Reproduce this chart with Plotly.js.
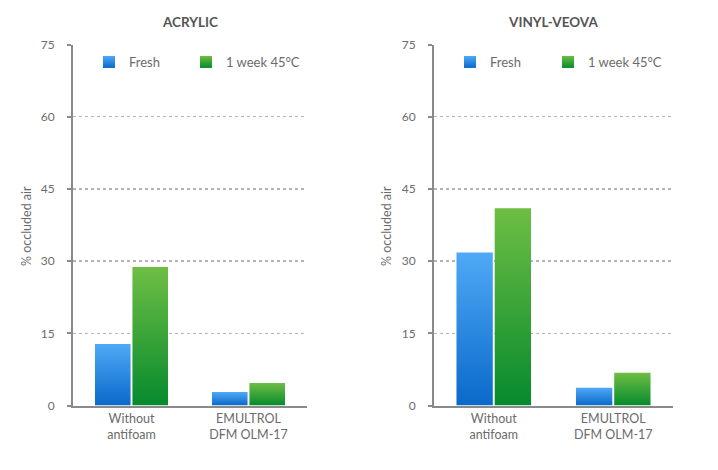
<!DOCTYPE html>
<html>
<head>
<meta charset="utf-8">
<script src="https://cdn.plot.ly/plotly-3.0.1.min.js"></script>
<style>
  html, body { margin: 0; padding: 0; background: #fff; }
  #chart { width: 718px; height: 470px; }
</style>
</head>
<body>
<div id="chart"></div>
<script>
// ---- data ----
const categories = ["Without<br>antifoam", "EMULTROL<br>DFM OLM-17"];
const seriesNames = ["Fresh", "1 week 45°C"];
const panelTitles = ["ACRYLIC", "VINYL-VEOVA"];
const acrylicFresh = [12.8, 2.8];
const acrylicWeek = [28.8, 4.7];
const vinylFresh = [31.8, 3.7];
const vinylWeek = [41.0, 6.8];
const yTicks = [0, 15, 30, 45, 60, 75];
const yTitle = "% occluded air";

const BLUE = "rgb(42, 135, 224)";
const GREEN = "rgb(47, 163, 58)";
const FONT = "Lato, 'Open Sans', sans-serif";
const TXT = "#6b6b6b";

function bar(y, name, color, xa, ya, legend) {
  return {
    type: "bar", x: categories, y: y, name: name,
    xaxis: xa, yaxis: ya, legend: legend,
    marker: { color: color, line: { width: 0 } },
    hoverinfo: "skip"
  };
}

const data = [
  bar(acrylicFresh, seriesNames[0], BLUE, "x", "y", "legend"),
  bar(acrylicWeek, seriesNames[1], GREEN, "x", "y", "legend2"),
  bar(vinylFresh, seriesNames[0], BLUE, "x2", "y2", "legend3"),
  bar(vinylWeek, seriesNames[1], GREEN, "x2", "y2", "legend4")
];

const yDom = [64.5 / 470, 425.5 / 470];
function yax(anchor) {
  return {
    domain: yDom, anchor: anchor, range: [0, 75], tickvals: yTicks,
    showgrid: true, gridcolor: "#b4b4b4", griddash: "dot", gridwidth: 1.5,
    showline: true, linecolor: "#8a8a8a", linewidth: 2,
    ticks: "outside", ticklen: 4, tickwidth: 2, tickcolor: "#8a8a8a",
    ticklabelstandoff: 10,
    zeroline: false, fixedrange: true,
    tickfont: { family: FONT, size: 12, color: TXT }
  };
}
function xax(domain, anchor) {
  return {
    domain: domain, anchor: anchor, type: "category", range: [-0.5, 1.5],
    showline: true, linecolor: "#8a8a8a", linewidth: 2,
    ticks: "", showgrid: false, fixedrange: true,
    tickfont: { family: FONT, size: 12.5, color: TXT }
  };
}
function leg(xpx) {
  return {
    orientation: "h", x: xpx / 718, y: (470 - 62) / 470, xref: "paper", yref: "paper",
    xanchor: "left", yanchor: "middle", bgcolor: "rgba(0,0,0,0)",
    font: { family: FONT, size: 13, color: TXT }
  };
}
function title(text, xpx) {
  return { text: "<b>" + text + "</b>", x: xpx / 718, y: (470 - 22) / 470, xref: "paper", yref: "paper",
    showarrow: false, xanchor: "center", yanchor: "middle", font: { family: FONT, size: 13.5, color: "#555" } };
}
function ytitle(xpx) {
  return { text: yTitle, textangle: -90, x: xpx / 718, y: (470 - 226) / 470, xref: "paper", yref: "paper",
    showarrow: false, xanchor: "center", yanchor: "middle", font: { family: FONT, size: 12.5, color: TXT } };
}

const layout = {
  width: 718, height: 470,
  margin: { l: 0, r: 0, t: 0, b: 0 },
  paper_bgcolor: "#fff", plot_bgcolor: "#fff",
  font: { family: FONT, color: TXT },
  barmode: "group", bargap: 0.36, bargroupgap: 0.05,
  showlegend: true,
  xaxis: xax([73 / 718, 307 / 718], "y"),
  yaxis: yax("x"),
  xaxis2: xax([434 / 718, 673 / 718], "y2"),
  yaxis2: yax("x2"),
  legend: leg(89),
  legend2: leg(186),
  legend3: leg(450),
  legend4: leg(548),
  annotations: [
    title(panelTitles[0], 190), title(panelTitles[1], 553),
    ytitle(26), ytitle(386)
  ]
};

const gd = document.getElementById("chart");

function ensureDefs() {
  const svg = gd.querySelector("svg.main-svg");
  if (!svg) return;
  let defs = svg.querySelector("defs");
  if (!defs) { defs = document.createElementNS("http://www.w3.org/2000/svg", "defs"); svg.insertBefore(defs, svg.firstChild); }
  if (document.getElementById("gradBlue")) return;
  const mk = (id, top, bot) => {
    const g = document.createElementNS("http://www.w3.org/2000/svg", "linearGradient");
    g.setAttribute("id", id);
    g.setAttribute("x1", "0"); g.setAttribute("y1", "0");
    g.setAttribute("x2", "0"); g.setAttribute("y2", "1");
    [[0, top], [1, bot]].forEach(([o, c]) => {
      const s = document.createElementNS("http://www.w3.org/2000/svg", "stop");
      s.setAttribute("offset", o); s.setAttribute("stop-color", c);
      g.appendChild(s);
    });
    defs.appendChild(g);
  };
  mk("gradBlue", "#4fa9f6", "#0a69ca");
  mk("gradGreen", "#6ebe43", "#068a2e");
}

function applyGradients() {
  ensureDefs();
  gd.querySelectorAll(".barlayer .point path, .legendpoints path").forEach(p => {
    const f = (p.style.fill || "").replace(/\s/g, "");
    if (f === BLUE.replace(/\s/g, "")) p.style.fill = "url(#gradBlue)";
    else if (f === GREEN.replace(/\s/g, "")) p.style.fill = "url(#gradGreen)";
  });
}

Plotly.newPlot(gd, data, layout, { displayModeBar: false, staticPlot: true }).then(() => {
  applyGradients();
  gd.on && gd.on("plotly_afterplot", applyGradients);
});
</script>
</body>
</html>
